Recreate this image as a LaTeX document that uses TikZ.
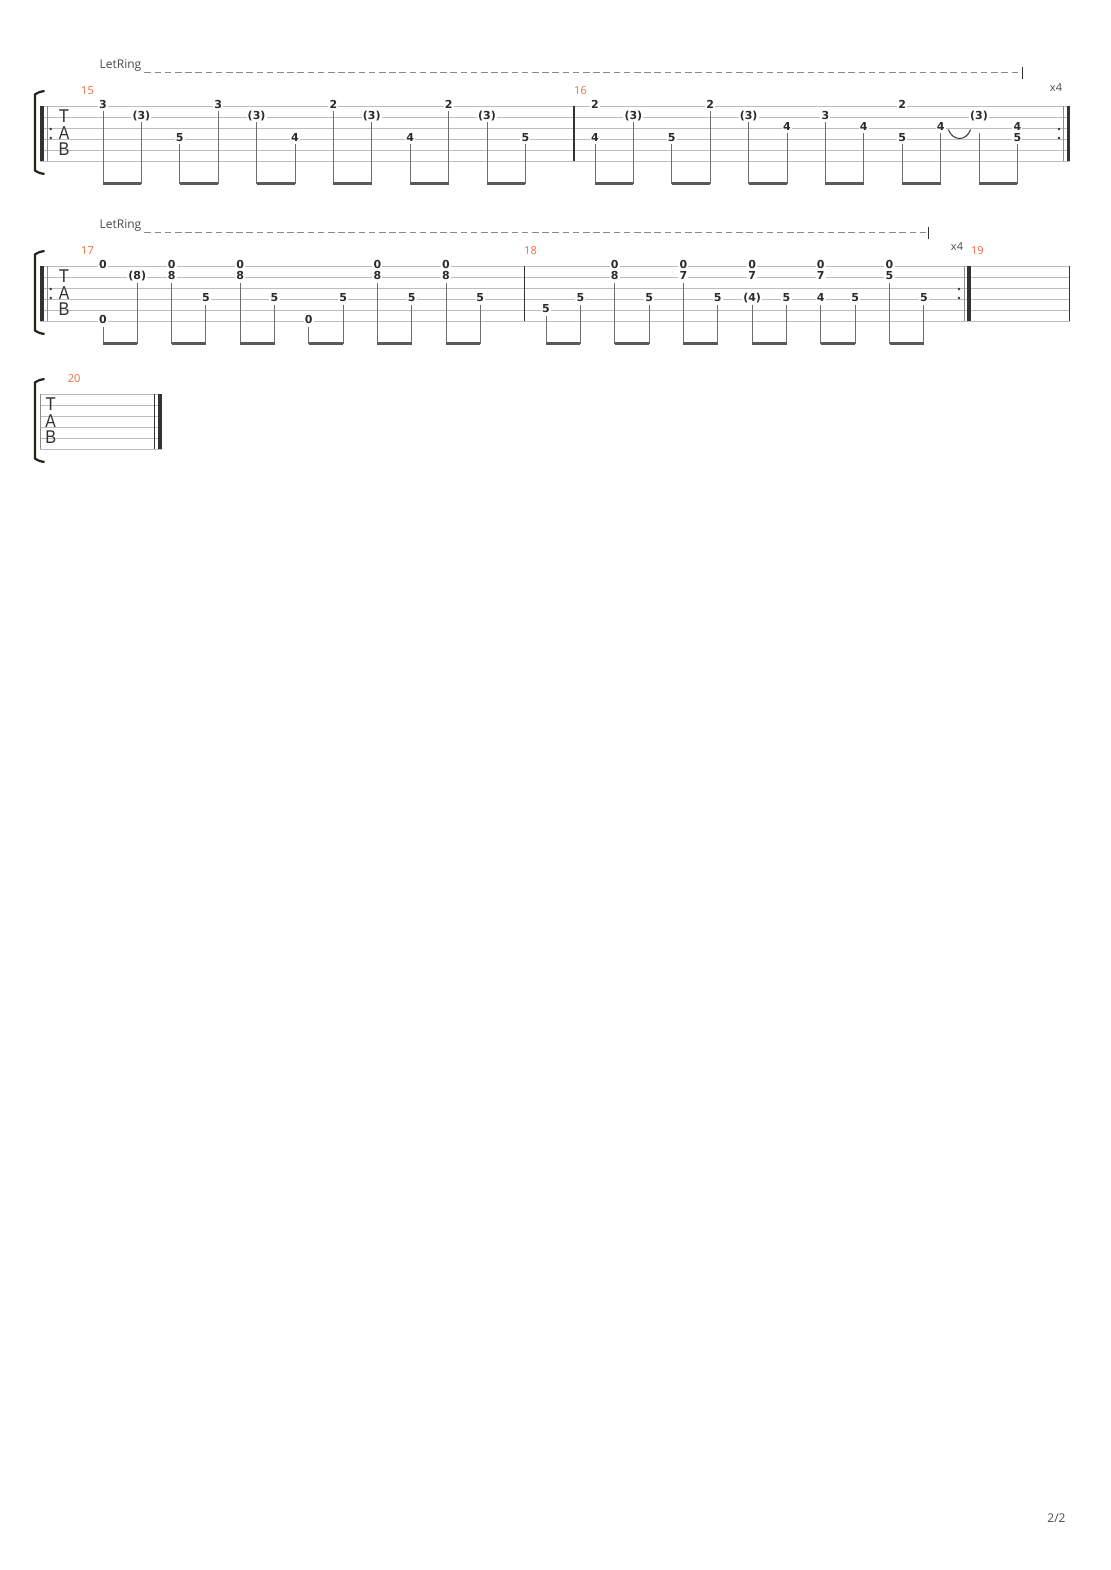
\documentclass[tikz,border=0pt]{standalone}
\usepackage{fontspec}
\usepackage{graphicx}
\setmainfont{DejaVu Sans}
\newfontfamily\labelfont{Open Sans}
\newfontfamily\tabfont{Liberation Sans}
\definecolor{fretcol}{HTML}{2B2B2B}
\definecolor{staffgray}{HTML}{BDBDBD}
\definecolor{stemgray}{HTML}{6E6E6E}
\definecolor{beamgray}{HTML}{5A5A5A}
\definecolor{bardark}{HTML}{333333}
\definecolor{thingray}{HTML}{8C8C8C}
\definecolor{bracketcol}{HTML}{23231A}
\definecolor{dashgray}{HTML}{8A8A8A}
\definecolor{labelgray}{HTML}{4A4A4A}
\definecolor{measorange}{HTML}{F26A3D}
\begin{document}
\begin{tikzpicture}[x=1pt,y=-1pt,
  fret/.style={font=\fontsize{11}{11}\selectfont\bfseries, text=fretcol, fill=white, inner xsep=1.2pt, inner ysep=0.8pt, anchor=base},
  staffline/.style={draw=staffgray, line width=0.9pt},
  stemline/.style={draw=stemgray, line width=1pt},
  beamline/.style={draw=beamgray, line width=2.6pt},
  measnum/.style={font=\labelfont\fontsize{11}{11}\selectfont, text=measorange, anchor=base, inner sep=0pt},
  barline/.style={draw=bardark, line width=1.2pt},
  thickbar/.style={draw=bardark, line width=3.6pt},
  thinbar/.style={draw=thingray, line width=1.2pt},
  repdot/.style={fill=bardark, draw=none},
  tabletter/.style={font=\tabfont\fontsize{18.5}{18.5}\selectfont, text=bardark, inner sep=0pt, anchor=center},
  bracketline/.style={draw=bracketcol, line width=2.2pt},
  ringlabel/.style={font=\labelfont\fontsize{12}{12}\selectfont, text=labelgray, anchor=base west, inner sep=0pt},
  ringdash/.style={draw=dashgray, line width=1.3pt, dash pattern=on 6.5pt off 3.7pt},
  ringtick/.style={draw=bardark, line width=0.9pt},
  repcount/.style={font=\labelfont\fontsize{11}{11}\selectfont, text=labelgray, anchor=base, inner sep=0pt},
  tieline/.style={draw=bardark, line width=1pt},
  pagenum/.style={font=\labelfont\fontsize{12}{12}\selectfont, text=labelgray, inner sep=0pt}
]
\useasboundingbox[fill=white] (0,0) rectangle (1110,1570);

% ================= SYSTEM 1 =================
\node[ringlabel] (lr1) at (99.5,68.3) {LetRing};
\coordinate (lrend1) at (1022.5,72.7);
\draw[ringdash] ([xshift=3pt]lr1.east |- lrend1) -- (lrend1);
\draw[ringtick] ([yshift=6pt]lrend1) -- ([yshift=-6pt]lrend1);
\node[repcount] (xa) at (1056,91.5) {x4};
\node[measnum] (m15) at (87.5,94.3) {15};
\node[measnum] (m16) at (580.5,94.3) {16};
\foreach \i in {0,...,5} \draw[staffline] (40,{106+11*\i}) -- (1070,{106+11*\i});
\draw[bracketline] (44.5,91) .. controls (39,92) .. (35,94.5) -- (35,170.5) .. controls (39,173) .. (44.5,174);
\draw[thickbar] (41.8,106) -- (41.8,161);
\draw[thinbar] (47.8,106) -- (47.8,161);
\fill[repdot] (50.7,129) circle (1.4);
\fill[repdot] (50.7,138) circle (1.4);
\node[tabletter] (t1) at (64,116.3) {\scalebox{0.9}[1]{T}};
\node[tabletter] (a1) at (64,133.6) {\scalebox{0.85}[1]{A}};
\node[tabletter] (b1) at (64,149) {\scalebox{0.88}[1]{B}};
\draw[barline] (574,106) -- (574,161);
\fill[repdot] (1059,129) circle (1.4);
\fill[repdot] (1059,138) circle (1.4);
\draw[thinbar] (1063.3,106) -- (1063.3,161);
\draw[thickbar] (1068.4,106) -- (1068.4,161);
% stems
\foreach \b/\x/\s in {1/103/1,2/141.4/2,3/179.8/4,4/218.2/1,5/256.6/2,6/295/4,7/333.4/1,8/371.8/2,9/410.2/4,10/448.6/1,11/487/2,12/525.4/4,
  13/595/4,14/633.4/2,15/671.8/4,16/710.2/1,17/748.6/2,18/787/3,19/825.4/2,20/863.8/3,21/902.2/4,22/940.6/3,23/979/3,24/1017.4/4}{
  \coordinate (At\b) at (\x,{111.5+11*(\s-1)});
  \coordinate (Ab\b) at (\x,183.7);
  \draw[stemline] (At\b) -- (Ab\b);
}
\foreach \p/\q in {1/2,3/4,5/6,7/8,9/10,11/12,13/14,15/16,17/18,19/20,21/22,23/24}
  \draw[beamline] (Ab\p) -- (Ab\q);
% fret numbers
\foreach \b/\x/\s/\t in {1/103/1/3,2/141.4/2/(3),3/179.8/4/5,4/218.2/1/3,5/256.6/2/(3),6/295/4/4,7/333.4/1/2,8/371.8/2/(3),9/410.2/4/4,10/448.6/1/2,11/487/2/(3),12/525.4/4/5,
  13/595/1/2,13/595/4/4,14/633.4/2/(3),15/671.8/4/5,16/710.2/1/2,17/748.6/2/(3),18/787/3/4,19/825.4/2/3,20/863.8/3/4,21/902.2/1/2,21/902.2/4/5,22/940.6/3/4,23/979/2/(3),24/1017.4/3/4,24/1017.4/4/5}
  \node[fret] (A\b-\s) at (\x,{108.5+11*(\s-1)}) {\t};
\coordinate (tieA) at (948.3,129.5);
\coordinate (tieB) at (970.7,129.5);
\draw[tieline] (tieA) .. controls (953,141.5) and (966,141.5) .. (tieB);

% ================= SYSTEM 2 =================
\begin{scope}[shift={(0,160)}]
\node[ringlabel] (lr2) at (99.5,68.3) {LetRing};
\coordinate (lrend2) at (928.3,72.7);
\draw[ringdash] ([xshift=3pt]lr2.east |- lrend2) -- (lrend2);
\draw[ringtick] ([yshift=6pt]lrend2) -- ([yshift=-6pt]lrend2);
\node[repcount] (xb) at (957,91) {x4};
\node[measnum] (m17) at (87.5,94.3) {17};
\node[measnum] (m18) at (530.5,94.3) {18};
\node[measnum] (m19) at (977.3,94.3) {19};
\foreach \i in {0,...,5} \draw[staffline] (40,{106+11*\i}) -- (1070,{106+11*\i});
\draw[bracketline] (44.5,91) .. controls (39,92) .. (35,94.5) -- (35,170.5) .. controls (39,173) .. (44.5,174);
\draw[thickbar] (41.8,106) -- (41.8,161);
\draw[thinbar] (47.8,106) -- (47.8,161);
\fill[repdot] (50.7,129) circle (1.4);
\fill[repdot] (50.7,138) circle (1.4);
\node[tabletter] (t2) at (64,116.3) {\scalebox{0.9}[1]{T}};
\node[tabletter] (a2) at (64,133.6) {\scalebox{0.85}[1]{A}};
\node[tabletter] (b2) at (64,149) {\scalebox{0.88}[1]{B}};
\draw[barline] (524.3,106) -- (524.3,161);
\fill[repdot] (959,129) circle (1.4);
\fill[repdot] (959,138) circle (1.4);
\draw[thinbar] (964.3,106) -- (964.3,161);
\draw[thickbar] (969,106) -- (969,161);
\draw[barline] (1069.5,106) -- (1069.5,161);
\foreach \b/\x/\s in {1/103/6,2/137.3/2,3/171.6/2,4/205.9/4,5/240.2/2,6/274.5/4,7/308.8/6,8/343.1/4,9/377.4/2,10/411.7/4,11/446/2,12/480.3/4,
  13/546/5,14/580.4/4,15/614.7/2,16/649.1/4,17/683.4/2,18/717.8/4,19/752.1/4,20/786.5/4,21/820.8/4,22/855.2/4,23/889.5/2,24/923.9/4}{
  \coordinate (Bt\b) at (\x,{111.5+11*(\s-1)});
  \coordinate (Bb\b) at (\x,183.7);
  \draw[stemline] (Bt\b) -- (Bb\b);
}
\foreach \p/\q in {1/2,3/4,5/6,7/8,9/10,11/12,13/14,15/16,17/18,19/20,21/22,23/24}
  \draw[beamline] (Bb\p) -- (Bb\q);
\foreach \b/\x/\s/\t in {1/103/1/0,1/103/6/0,2/137.3/2/(8),3/171.6/1/0,3/171.6/2/8,4/205.9/4/5,5/240.2/1/0,5/240.2/2/8,6/274.5/4/5,7/308.8/6/0,8/343.1/4/5,9/377.4/1/0,9/377.4/2/8,10/411.7/4/5,11/446/1/0,11/446/2/8,12/480.3/4/5,
  13/546/5/5,14/580.4/4/5,15/614.7/1/0,15/614.7/2/8,16/649.1/4/5,17/683.4/1/0,17/683.4/2/7,18/717.8/4/5,19/752.1/1/0,19/752.1/2/7,19/752.1/4/(4),20/786.5/4/5,21/820.8/1/0,21/820.8/2/7,21/820.8/4/4,22/855.2/4/5,23/889.5/1/0,23/889.5/2/5,24/923.9/4/5}
  \node[fret] (B\b-\s) at (\x,{108.5+11*(\s-1)}) {\t};
\end{scope}

% ================= SYSTEM 3 =================
\begin{scope}[shift={(0,288)}]
\node[measnum] (m20) at (74.2,94.3) {20};
\foreach \i in {0,...,5} \draw[staffline] (40,{106+11*\i}) -- (161.5,{106+11*\i});
\draw[bracketline] (44.5,91) .. controls (39,92) .. (35,94.5) -- (35,170.5) .. controls (39,173) .. (44.5,174);
\draw[thinbar] (40.5,106) -- (40.5,161);
\node[tabletter] (t3) at (50.7,116.3) {\scalebox{0.9}[1]{T}};
\node[tabletter] (a3) at (50.7,133) {\scalebox{0.85}[1]{A}};
\node[tabletter] (b3) at (50.7,149) {\scalebox{0.88}[1]{B}};
\draw[barline] (154.5,106) -- (154.5,161);
\draw[thickbar] (159.8,106) -- (159.8,161);
\end{scope}

\node[pagenum] (pg) at (1056.5,1518) {2/2};
\end{tikzpicture}
\end{document}
